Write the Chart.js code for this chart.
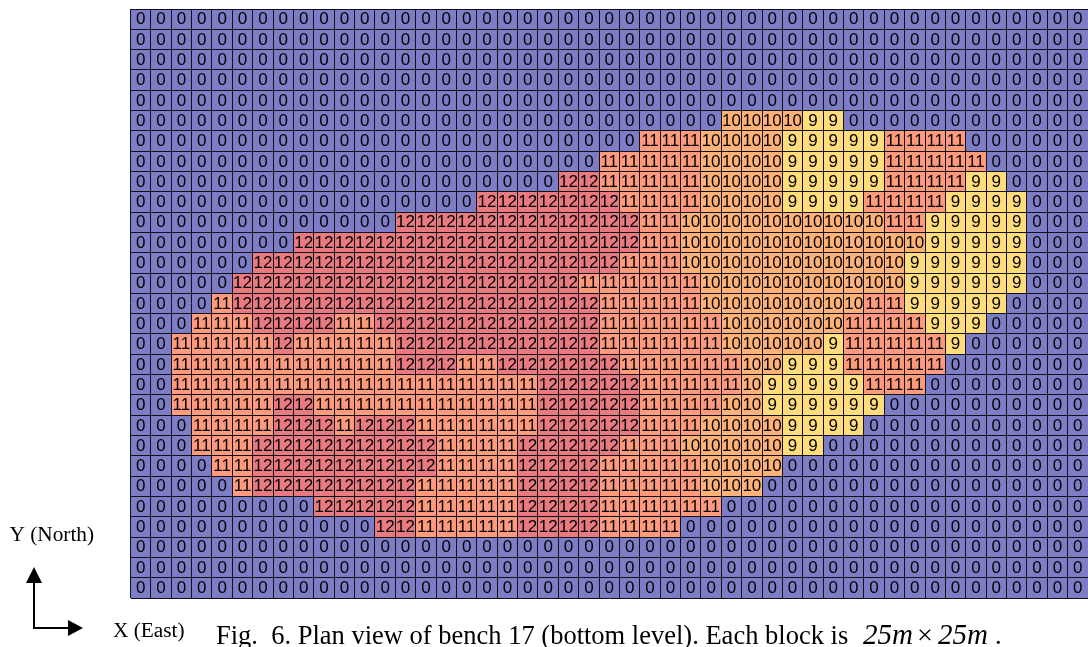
<!DOCTYPE html>
<html><head><meta charset="utf-8">
<style>html,body{margin:0;padding:0;background:#fff;overflow:hidden}canvas{display:block}</style>
<script src="https://cdn.jsdelivr.net/npm/chart.js@4/dist/chart.umd.min.js"></script>
</head><body>
<div style="width:1088px;height:647px"><canvas id="c" width="1088" height="647"></canvas></div>
<script>
const row00=[0,0,0,0,0,0,0,0,0,0, 0,0,0,0,0,0,0,0,0,0, 0,0,0,0,0,0,0,0,0,0, 0,0,0,0,0,0,0,0,0,0, 0,0,0,0,0,0,0];
const row01=[0,0,0,0,0,0,0,0,0,0, 0,0,0,0,0,0,0,0,0,0, 0,0,0,0,0,0,0,0,0,0, 0,0,0,0,0,0,0,0,0,0, 0,0,0,0,0,0,0];
const row02=[0,0,0,0,0,0,0,0,0,0, 0,0,0,0,0,0,0,0,0,0, 0,0,0,0,0,0,0,0,0,0, 0,0,0,0,0,0,0,0,0,0, 0,0,0,0,0,0,0];
const row03=[0,0,0,0,0,0,0,0,0,0, 0,0,0,0,0,0,0,0,0,0, 0,0,0,0,0,0,0,0,0,0, 0,0,0,0,0,0,0,0,0,0, 0,0,0,0,0,0,0];
const row04=[0,0,0,0,0,0,0,0,0,0, 0,0,0,0,0,0,0,0,0,0, 0,0,0,0,0,0,0,0,0,0, 0,0,0,0,0,0,0,0,0,0, 0,0,0,0,0,0,0];
const row05=[0,0,0,0,0,0,0,0,0,0, 0,0,0,0,0,0,0,0,0,0, 0,0,0,0,0,0,0,0,0,10, 10,10,10,9,9,0,0,0,0,0, 0,0,0,0,0,0,0];
const row06=[0,0,0,0,0,0,0,0,0,0, 0,0,0,0,0,0,0,0,0,0, 0,0,0,0,0,11,11,11,10,10, 10,10,9,9,9,9,9,11,11,11, 11,0,0,0,0,0,0];
const row07=[0,0,0,0,0,0,0,0,0,0, 0,0,0,0,0,0,0,0,0,0, 0,0,0,11,11,11,11,11,10,10, 10,10,9,9,9,9,9,11,11,11, 11,11,0,0,0,0,0];
const row08=[0,0,0,0,0,0,0,0,0,0, 0,0,0,0,0,0,0,0,0,0, 0,12,12,11,11,11,11,11,10,10, 10,10,9,9,9,9,9,11,11,11, 11,9,9,0,0,0,0];
const row09=[0,0,0,0,0,0,0,0,0,0, 0,0,0,0,0,0,0,12,12,12, 12,12,12,12,11,11,11,11,10,10, 10,10,9,9,9,9,11,11,11,11, 9,9,9,9,0,0,0];
const row10=[0,0,0,0,0,0,0,0,0,0, 0,0,0,12,12,12,12,12,12,12, 12,12,12,12,12,11,11,10,10,10, 10,10,10,10,10,10,10,11,11,9, 9,9,9,9,0,0,0];
const row11=[0,0,0,0,0,0,0,0,12,12, 12,12,12,12,12,12,12,12,12,12, 12,12,12,12,12,11,11,10,10,10, 10,10,10,10,10,10,10,10,10,9, 9,9,9,9,0,0,0];
const row12=[0,0,0,0,0,0,12,12,12,12, 12,12,12,12,12,12,12,12,12,12, 12,12,12,12,11,11,11,10,10,10, 10,10,10,10,10,10,10,10,9,9, 9,9,9,9,0,0,0];
const row13=[0,0,0,0,0,12,12,12,12,12, 12,12,12,12,12,12,12,12,12,12, 12,12,11,11,11,11,11,11,10,10, 10,10,10,10,10,10,10,10,9,9, 9,9,9,9,0,0,0];
const row14=[0,0,0,0,11,12,12,12,12,12, 12,12,12,12,12,12,12,12,12,12, 12,12,12,11,11,11,11,11,10,10, 10,10,10,10,10,10,11,11,9,9, 9,9,9,0,0,0,0];
const row15=[0,0,0,11,11,11,12,12,12,12, 11,11,12,12,12,12,12,12,12,12, 12,12,12,11,11,11,11,11,11,10, 10,10,10,10,10,11,11,11,11,9, 9,9,0,0,0,0,0];
const row16=[0,0,11,11,11,11,11,12,11,11, 11,11,11,12,12,12,12,12,12,12, 12,12,12,11,11,11,11,11,11,10, 10,10,10,10,9,11,11,11,11,11, 9,0,0,0,0,0,0];
const row17=[0,0,11,11,11,11,11,11,11,11, 11,11,11,12,12,12,11,11,12,12, 12,12,12,12,11,11,11,11,11,11, 10,10,9,9,9,11,11,11,11,11, 0,0,0,0,0,0,0];
const row18=[0,0,11,11,11,11,11,11,11,11, 11,11,11,11,11,11,11,11,11,11, 12,12,12,12,12,11,11,11,11,11, 10,9,9,9,9,9,11,11,11,0, 0,0,0,0,0,0,0];
const row19=[0,0,11,11,11,11,11,12,12,11, 11,11,11,11,11,11,11,11,11,11, 12,12,12,12,12,11,11,11,11,10, 10,9,9,9,9,9,9,0,0,0, 0,0,0,0,0,0,0];
const row20=[0,0,0,11,11,11,11,12,12,12, 11,12,12,12,11,11,11,11,11,11, 12,12,12,12,12,11,11,11,10,10, 10,10,9,9,9,9,0,0,0,0, 0,0,0,0,0,0,0];
const row21=[0,0,0,11,11,11,12,12,12,12, 12,12,12,12,12,11,11,11,11,12, 12,12,12,12,11,11,11,10,10,10, 10,10,9,9,0,0,0,0,0,0, 0,0,0,0,0,0,0];
const row22=[0,0,0,0,11,11,12,12,12,12, 12,12,12,12,12,11,11,11,11,12, 12,12,12,11,11,11,11,11,10,10, 10,10,0,0,0,0,0,0,0,0, 0,0,0,0,0,0,0];
const row23=[0,0,0,0,0,11,12,12,12,12, 12,12,12,12,11,11,11,11,11,12, 12,12,12,11,11,11,11,11,10,10, 10,0,0,0,0,0,0,0,0,0, 0,0,0,0,0,0,0];
const row24=[0,0,0,0,0,0,0,0,0,12, 12,12,12,12,11,11,11,11,11,12, 12,12,12,11,11,11,11,11,11,0, 0,0,0,0,0,0,0,0,0,0, 0,0,0,0,0,0,0];
const row25=[0,0,0,0,0,0,0,0,0,0, 0,0,12,12,11,11,11,11,11,12, 12,12,12,11,11,11,11,0,0,0, 0,0,0,0,0,0,0,0,0,0, 0,0,0,0,0,0,0];
const row26=[0,0,0,0,0,0,0,0,0,0, 0,0,0,0,0,0,0,0,0,0, 0,0,0,0,0,0,0,0,0,0, 0,0,0,0,0,0,0,0,0,0, 0,0,0,0,0,0,0];
const row27=[0,0,0,0,0,0,0,0,0,0, 0,0,0,0,0,0,0,0,0,0, 0,0,0,0,0,0,0,0,0,0, 0,0,0,0,0,0,0,0,0,0, 0,0,0,0,0,0,0];
const row28=[0,0,0,0,0,0,0,0,0,0, 0,0,0,0,0,0,0,0,0,0, 0,0,0,0,0,0,0,0,0,0, 0,0,0,0,0,0,0,0,0,0, 0,0,0,0,0,0,0];
const blockRows=[row00,row01,row02,row03,row04,row05,row06,row07,row08,row09,row10,row11,row12,row13,row14,row15,row16,row17,row18,row19,row20,row21,row22,row23,row24,row25,row26,row27,row28];
const columns=row00.map((_,i)=>String(i));
const levels=[0,9,10,11,12];
const levelColors=['#7D7DC6','#FFDD7D','#FFB278','#FF9A7C','#E87A80'];

const datasets=levels.map((lv,k)=>{
  const data=[];
  blockRows.forEach((r,ri)=>r.forEach((v,ci)=>{ if(v===lv) data.push({x:columns[ci],y:[ri,ri+1]}); }));
  return {label:String(lv),data,backgroundColor:levelColors[k],borderWidth:0,inflateAmount:0,barPercentage:1,categoryPercentage:1};
});

const labelsPlugin={
  id:'blockLabels',
  afterDraw(chart){
    const ctx=chart.ctx,xs=chart.scales.x,ys=chart.scales.y;
    ctx.save();
    ctx.fillStyle='#000';
    ctx.textAlign='center';ctx.textBaseline='middle';
    ctx.font='17px "Liberation Sans", Arial, sans-serif';
    blockRows.forEach((r,ri)=>r.forEach((v,ci)=>{
      ctx.fillText(String(v),xs.getPixelForValue(ci),ys.getPixelForValue(ri+0.5)+0.5);
    }));
    // caption and orientation key
    ctx.textAlign='left';ctx.textBaseline='alphabetic';
    const serif='"Liberation Serif", "Times New Roman", serif';
    ctx.font='21.3px '+serif;
    ctx.fillText('Y (North)',9.5,541);
    ctx.fillText('X (East)',113,637);
    ctx.font='26.5px '+serif;
    ctx.fillText('Fig.  6. Plan view of bench 17 (bottom level). Each block is',216,644);
    ctx.font='italic 29px '+serif;
    ctx.fillText('25m',863,644);
    ctx.font='28px '+serif;
    ctx.fillText('×',917,644);
    ctx.font='italic 29px '+serif;
    ctx.fillText('25m',938,644);
    ctx.font='26.5px '+serif;
    ctx.fillText('.',995,644);
    ctx.strokeStyle='#000';ctx.lineWidth=2;
    ctx.beginPath();ctx.moveTo(34,580);ctx.lineTo(34,628);ctx.lineTo(70,628);ctx.stroke();
    ctx.beginPath();ctx.moveTo(34,567);ctx.lineTo(42,583);ctx.lineTo(26,583);ctx.closePath();ctx.fill();
    ctx.beginPath();ctx.moveTo(83,628);ctx.lineTo(68,620);ctx.lineTo(68,636);ctx.closePath();ctx.fill();
    ctx.restore();
  }
};

new Chart(document.getElementById('c'),{
  type:'bar',
  data:{labels:columns,datasets},
  plugins:[labelsPlugin],
  options:{
    responsive:false,animation:false,devicePixelRatio:1,
    layout:{padding:{left:130.5,right:0,top:9,bottom:49}},
    plugins:{legend:{display:false},title:{display:false},tooltip:{enabled:false}},
    scales:{
      x:{type:'category',stacked:true,offset:true,
         ticks:{display:false},border:{display:false},
         grid:{z:1,color:'#101018',lineWidth:1,drawTicks:false,offset:true}},
      y:{type:'linear',min:0,max:blockRows.length,reverse:true,stacked:false,
         ticks:{display:false,stepSize:1},border:{display:false},
         grid:{z:1,color:'#101018',lineWidth:1,drawTicks:false}}
    }
  }
});
</script>
</body></html>
